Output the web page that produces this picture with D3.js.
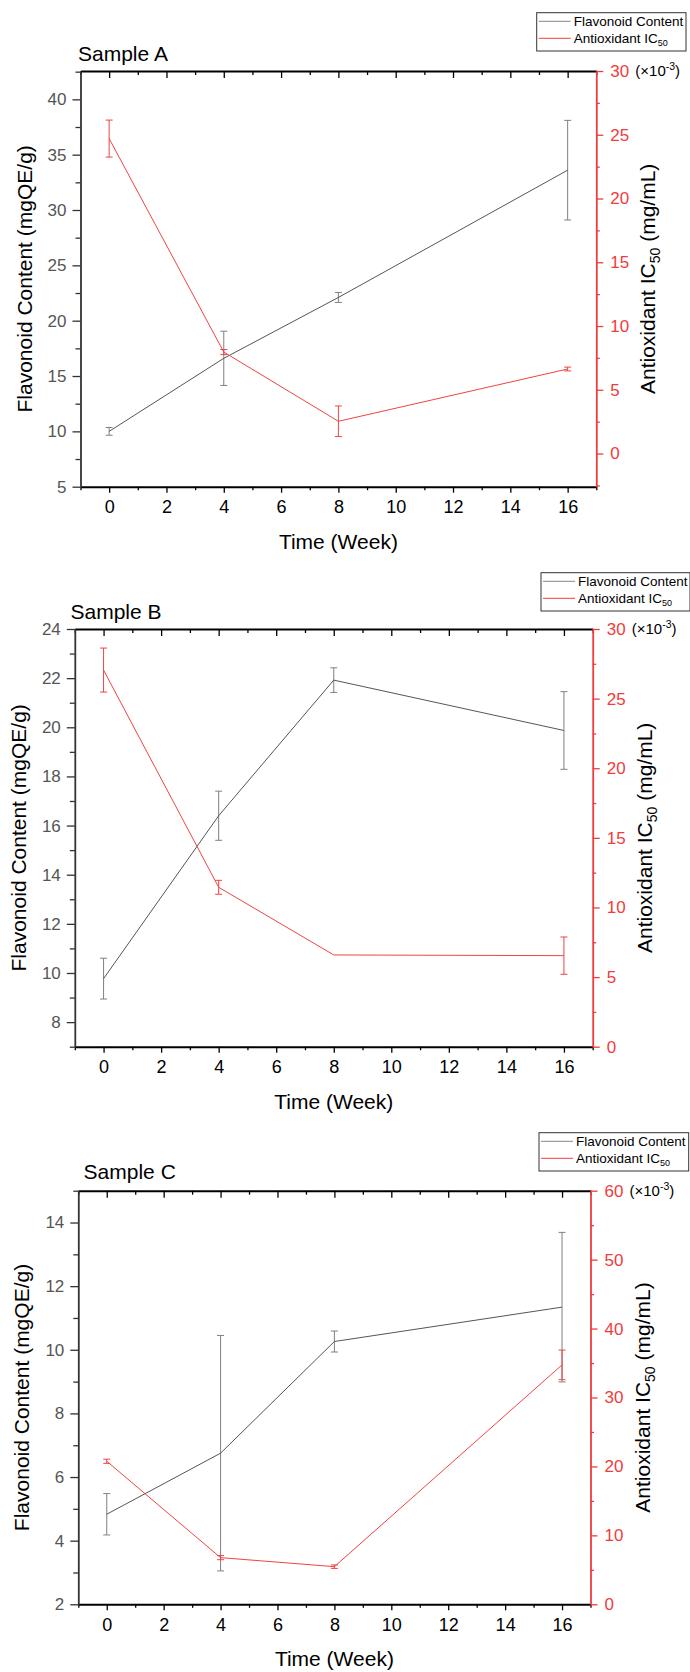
<!DOCTYPE html>
<html>
<head>
<meta charset="utf-8">
<script src="https://cdn.jsdelivr.net/npm/d3@7"></script>
<style>
  html, body { margin: 0; padding: 0; background: #fff; }
  svg { display: block; font-family: "Liberation Sans", Arial, sans-serif; }
</style>
</head>
<body>
<svg id="chart" width="690" height="1672"></svg>
<script>
// ---------- data ----------
const weeks = [0, 4, 8, 16];
const xTicks = [0, 2, 4, 6, 8, 10, 12, 14, 16];
const xMinor = [-1, 1, 3, 5, 7, 9, 11, 13, 15, 17];

const flavA = [10.0, 16.6, 22.1, 33.6];
const flavAErr = [0.35, 2.45, 0.45, 4.5];
const icA = [24.7, 7.96, 2.53, 6.63];
const icAErr = [1.45, 0.2, 1.2, 0.15];

const flavB = [9.77, 16.4, 21.92, 19.87];
const flavBErr = [0.83, 1.0, 0.5, 1.58];
const icB = [27.05, 11.45, 6.59, 6.54];
const icBErr = [1.58, 0.5, 0.0, 1.34];

const flavC = [4.83, 6.75, 10.26, 11.34];
const flavCErr = [0.65, 3.7, 0.33, 2.35];
const icC = [20.75, 6.77, 5.46, 34.73];
const icCErr = [0.3, 0.3, 0.25, 2.15];

const leftTicksA = [5, 10, 15, 20, 25, 30, 35, 40];
const leftMinorA = [7.5, 12.5, 17.5, 22.5, 27.5, 32.5, 37.5, 42.5];
const rightTicksA = [0, 5, 10, 15, 20, 25, 30];
const rightMinorA = [-2.5, 2.5, 7.5, 12.5, 17.5, 22.5, 27.5];

const leftTicksB = [8, 10, 12, 14, 16, 18, 20, 22, 24];
const leftMinorB = [7, 9, 11, 13, 15, 17, 19, 21, 23];
const rightTicksB = [0, 5, 10, 15, 20, 25, 30];
const rightMinorB = [2.5, 7.5, 12.5, 17.5, 22.5, 27.5];

const leftTicksC = [2, 4, 6, 8, 10, 12, 14];
const leftMinorC = [3, 5, 7, 9, 11, 13, 15];
const rightTicksC = [0, 10, 20, 30, 40, 50, 60];
const rightMinorC = [5, 15, 25, 35, 45, 55];

const titles = ["Sample A", "Sample B", "Sample C"];
const legendLabels = ["Flavonoid Content", "Antioxidant IC"];

// ---------- layout ----------
const panels = [
  { title: titles[0], flav: flavA, flavErr: flavAErr, ic: icA, icErr: icAErr,
    lDom: [5, 42.56], lTicks: leftTicksA, lMinor: leftMinorA,
    rDom: [-2.6, 30], rTicks: rightTicksA, rMinor: rightMinorA,
    l: 80.5, r: 596.3, t: 71, b: 486.7, titleX: 78, titleY: 61,
    leg: { x: 536.7, y: 12.7, w: 149.3, h: 38.3 } },
  { title: titles[1], flav: flavB, flavErr: flavBErr, ic: icB, icErr: icBErr,
    lDom: [7, 24], lTicks: leftTicksB, lMinor: leftMinorB,
    rDom: [0, 30], rTicks: rightTicksB, rMinor: rightMinorB,
    l: 74.8, r: 592.7, t: 629, b: 1046.7, titleX: 70.5, titleY: 619,
    leg: { x: 541, y: 572.7, w: 149, h: 38.3 } },
  { title: titles[2], flav: flavC, flavErr: flavCErr, ic: icC, icErr: icCErr,
    lDom: [2, 15], lTicks: leftTicksC, lMinor: leftMinorC,
    rDom: [0, 60], rTicks: rightTicksC, rMinor: rightMinorC,
    l: 78.3, r: 590.5, t: 1190.7, b: 1604.3, titleX: 83.6, titleY: 1179,
    leg: { x: 539, y: 1132.7, w: 149.7, h: 38.3 } }
];

const RED = "#f03c3c";
const RED_LINE = "#ee4444";
const GRAY_LINE = "#555555";
const GRAY_ERR = "#808080";

const svg = d3.select("#chart");

function styleAxis(sel, color, width, fontSize, textColor) {
  sel.select(".domain").attr("stroke", color).attr("stroke-width", width);
  sel.selectAll(".tick line").attr("stroke", color).attr("stroke-width", 1.3);
  sel.selectAll(".tick text").attr("fill", textColor).attr("font-size", fontSize)
    .attr("font-family", "Liberation Sans, Arial, sans-serif");
}

panels.forEach(p => {
  const g = svg.append("g");
  const x = d3.scaleLinear().domain([-1, 17]).range([p.l, p.r]);
  const yL = d3.scaleLinear().domain(p.lDom).range([p.b, p.t]);
  const yR = d3.scaleLinear().domain(p.rDom).range([p.b, p.t]);

  // top frame + inward ticks
  const top = g.append("g").attr("transform", `translate(0,${p.t})`)
    .call(d3.axisTop(x).tickValues(xTicks).tickSize(-7).tickSizeOuter(0).tickFormat(""));
  styleAxis(top, "#000", 2, 0, "#000");
  const topMin = g.append("g").attr("transform", `translate(0,${p.t})`)
    .call(d3.axisTop(x).tickValues(xMinor).tickSize(-4).tickSizeOuter(0).tickFormat(""));
  topMin.select(".domain").remove();
  topMin.selectAll(".tick line").attr("stroke", "#000").attr("stroke-width", 1.3);

  // bottom axis
  const bot = g.append("g").attr("transform", `translate(0,${p.b})`)
    .call(d3.axisBottom(x).tickValues(xTicks).tickSize(6).tickSizeOuter(0).tickPadding(8));
  styleAxis(bot, "#000", 2, 18, "#000");
  const botMin = g.append("g").attr("transform", `translate(0,${p.b})`)
    .call(d3.axisBottom(x).tickValues(xMinor).tickSize(3.5).tickSizeOuter(0).tickFormat(""));
  botMin.select(".domain").remove();
  botMin.selectAll(".tick line").attr("stroke", "#000").attr("stroke-width", 1.3);

  // left axis
  const left = g.append("g").attr("transform", `translate(${p.l},0)`)
    .call(d3.axisLeft(yL).tickValues(p.lTicks).tickSize(8).tickSizeOuter(0).tickPadding(6));
  styleAxis(left, "#333", 1.8, 17, "#555");
  const leftMin = g.append("g").attr("transform", `translate(${p.l},0)`)
    .call(d3.axisLeft(yL).tickValues(p.lMinor.filter(v => v >= p.lDom[0] && v <= p.lDom[1]))
      .tickSize(5).tickSizeOuter(0).tickFormat(""));
  leftMin.select(".domain").remove();
  leftMin.selectAll(".tick line").attr("stroke", "#333").attr("stroke-width", 1.3);

  // right axis
  const right = g.append("g").attr("transform", `translate(${p.r},0)`)
    .call(d3.axisRight(yR).tickValues(p.rTicks).tickSize(7).tickSizeOuter(0).tickPadding(7));
  styleAxis(right, RED, 1.8, 17, RED);
  const rightMin = g.append("g").attr("transform", `translate(${p.r},0)`)
    .call(d3.axisRight(yR).tickValues(p.rMinor.filter(v => v >= p.rDom[0] && v <= p.rDom[1]))
      .tickSize(3.5).tickSizeOuter(0).tickFormat(""));
  rightMin.select(".domain").remove();
  rightMin.selectAll(".tick line").attr("stroke", RED).attr("stroke-width", 1.3);

  // multiplier (x10^-3)
  const mult = g.append("text").attr("x", p.r + 39).attr("y", p.t + 5)
    .attr("font-size", 15).attr("fill", "#000");
  mult.append("tspan").text("(\u00d710");
  mult.append("tspan").attr("font-size", 10.5).attr("dy", -6).text("-3");
  mult.append("tspan").attr("dy", 6).text(")");

  const line = (yS, vals) => d3.line().x((d, i) => x(weeks[i])).y(d => yS(d))(vals);
  function errBars(yS, vals, errs, color) {
    const eg = g.append("g").attr("stroke", color).attr("stroke-width", 1).attr("fill", "none");
    vals.forEach((v, i) => {
      if (errs[i] <= 0) return;
      const cx = x(weeks[i]);
      const y1 = yS(v + errs[i]), y2 = yS(v - errs[i]);
      eg.append("line").attr("x1", cx).attr("x2", cx).attr("y1", y1).attr("y2", y2);
      eg.append("line").attr("x1", cx - 3.5).attr("x2", cx + 3.5).attr("y1", y1).attr("y2", y1);
      eg.append("line").attr("x1", cx - 3.5).attr("x2", cx + 3.5).attr("y1", y2).attr("y2", y2);
    });
  }
  errBars(yL, p.flav, p.flavErr, GRAY_ERR);
  g.append("path").attr("d", line(yL, p.flav)).attr("fill", "none")
    .attr("stroke", GRAY_LINE).attr("stroke-width", 1);
  errBars(yR, p.ic, p.icErr, RED_LINE);
  g.append("path").attr("d", line(yR, p.ic)).attr("fill", "none")
    .attr("stroke", RED_LINE).attr("stroke-width", 1);

  // titles
  g.append("text").attr("x", p.titleX).attr("y", p.titleY).attr("font-size", 21)
    .attr("fill", "#000").text(p.title);
  g.append("text").attr("x", (p.l + p.r) / 2).attr("y", p.b + 62).attr("text-anchor", "middle")
    .attr("font-size", 21).attr("fill", "#000").text("Time (Week)");
  const cy = (p.t + p.b) / 2;
  g.append("text").attr("transform", `translate(${p.l - 49},${cy}) rotate(-90)`)
    .attr("text-anchor", "middle").attr("font-size", 21).attr("fill", "#000")
    .text("Flavonoid Content (mgQE/g)");
  const rt = g.append("text").attr("transform", `translate(${p.r + 59},${cy}) rotate(-90)`)
    .attr("text-anchor", "middle").attr("font-size", 21).attr("fill", "#000");
  rt.append("tspan").text("Antioxidant IC");
  rt.append("tspan").attr("font-size", 14).attr("dy", 5).text("50");
  rt.append("tspan").attr("dy", -5).text(" (mg/mL)");

  // legend
  const L = p.leg;
  const lg = g.append("g");
  lg.append("rect").attr("x", L.x).attr("y", L.y).attr("width", L.w).attr("height", L.h)
    .attr("fill", "#fff").attr("stroke", "#333").attr("stroke-width", 1);
  const rows = [{ c: "#888", y: L.y + 8.6 }, { c: RED, y: L.y + 25.6 }];
  rows.forEach((r, i) => {
    lg.append("line").attr("x1", L.x + 2).attr("x2", L.x + 34).attr("y1", r.y).attr("y2", r.y)
      .attr("stroke", r.c).attr("stroke-width", 1);
    const t = lg.append("text").attr("x", L.x + 37).attr("y", r.y + 5)
      .attr("font-size", 13.5).attr("fill", "#000");
    t.append("tspan").text(legendLabels[i]);
    if (i === 1) t.append("tspan").attr("font-size", 9).attr("dy", 3).text("50");
  });
});
</script>
</body>
</html>
